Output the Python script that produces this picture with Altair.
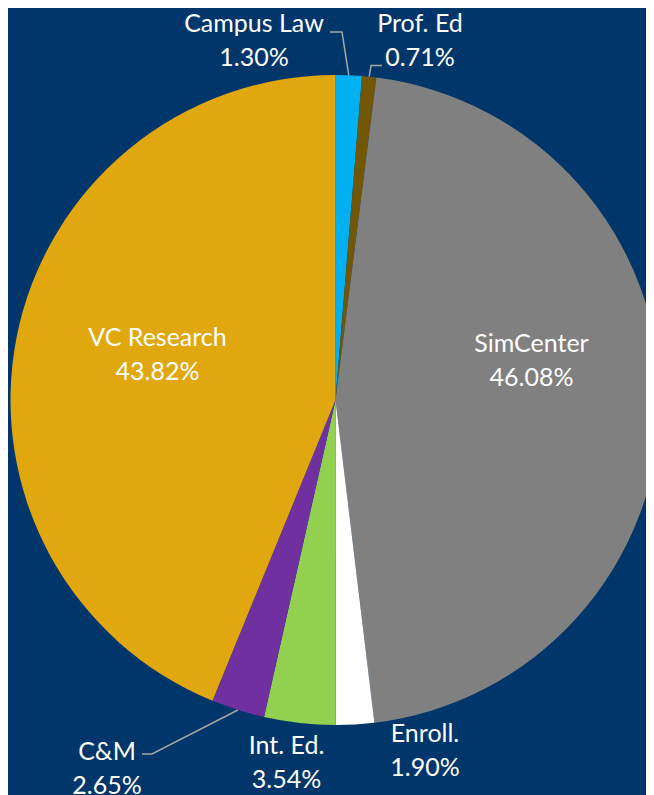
import math
import altair as alt
import pandas as pd

# ---- data ----
categories = ["Campus Law", "Prof. Ed", "SimCenter", "Enroll.", "Int. Ed.", "C&M", "VC Research"]
shares = [1.30, 0.71, 46.08, 1.90, 3.54, 2.65, 43.82]
colors = ["#00B0F0", "#735709", "#808080", "#FFFFFF", "#92D050", "#7030A0", "#E0A70F"]

# ---- layout (pixels) ----
W, H = 638, 787
CX, CY = 327.5, 392.0
R = 325
BG = "#003669"
FONT = "Lato"
FS = 25
LINE_GAP = 33.5
# label anchor relative to pie centre: (dx, baseline dy of first line)
label_pos = {
    "Campus Law": (-81.5, -368),
    "Prof. Ed": (84.5, -368),
    "SimCenter": (196, -48),
    "Enroll.": (89.5, 342),
    "Int. Ed.": (-49, 354),
    "C&M": (-228.5, 360),
    "VC Research": (-178, -54),
}
# leader lines: elbow and end points relative to centre
leaders = {
    "Campus Law": [(6.5, -368), (-5.5, -368)],
    "Prof. Ed": [(35.5, -334.5), (46.5, -334.5)],
    "C&M": [(-183.5, 354), (-193.5, 354)],
}

df = pd.DataFrame({"cat": categories, "share": shares, "order": list(range(len(categories)))})

pie = alt.Chart(df).mark_arc(outerRadius=R).encode(
    theta=alt.Theta("share:Q", stack=True),
    order=alt.Order("order:Q"),
    color=alt.Color("cat:N", scale=alt.Scale(domain=categories, range=colors), legend=None),
    x=alt.value(CX),
    y=alt.value(CY),
)

# text rows
rows = []
for c, v in zip(categories, shares):
    dx, dy = label_pos[c]
    rows.append({"x": CX + dx, "y": CY + dy, "t": c})
    rows.append({"x": CX + dx, "y": CY + dy + LINE_GAP, "t": f"{v:.2f}%"})
tdf = pd.DataFrame(rows)
text = alt.Chart(tdf).mark_text(
    font=FONT, fontSize=FS, color="white", align="center", baseline="alphabetic"
).encode(
    x=alt.X("x:Q", scale=None),
    y=alt.Y("y:Q", scale=None),
    text="t:N",
)

# leader lines, starting at slice edge mid-angle
total = sum(shares)
cum = 0.0
lrows = []
for c, v in zip(categories, shares):
    mid = (cum + v / 2) / total * 2 * math.pi
    cum += v
    if c in leaders:
        pts = [(R * math.sin(mid), -R * math.cos(mid))] + leaders[c]
        for i, (px, py) in enumerate(pts):
            lrows.append({"cat": c, "i": i, "x": CX + px, "y": CY + py})
ldf = pd.DataFrame(lrows)
lines = alt.Chart(ldf).mark_line(color="#A6A6A6", strokeWidth=1.5).encode(
    x=alt.X("x:Q", scale=None),
    y=alt.Y("y:Q", scale=None),
    detail="cat:N",
    order="i:Q",
)

chart = alt.layer(pie, lines, text).properties(
    width=W, height=H, background=BG, padding=0,
    autosize=alt.AutoSizeParams(type="none"),
).configure_view(stroke=None)

chart.save("out.html", embed_options={"renderer": "svg", "actions": False})
